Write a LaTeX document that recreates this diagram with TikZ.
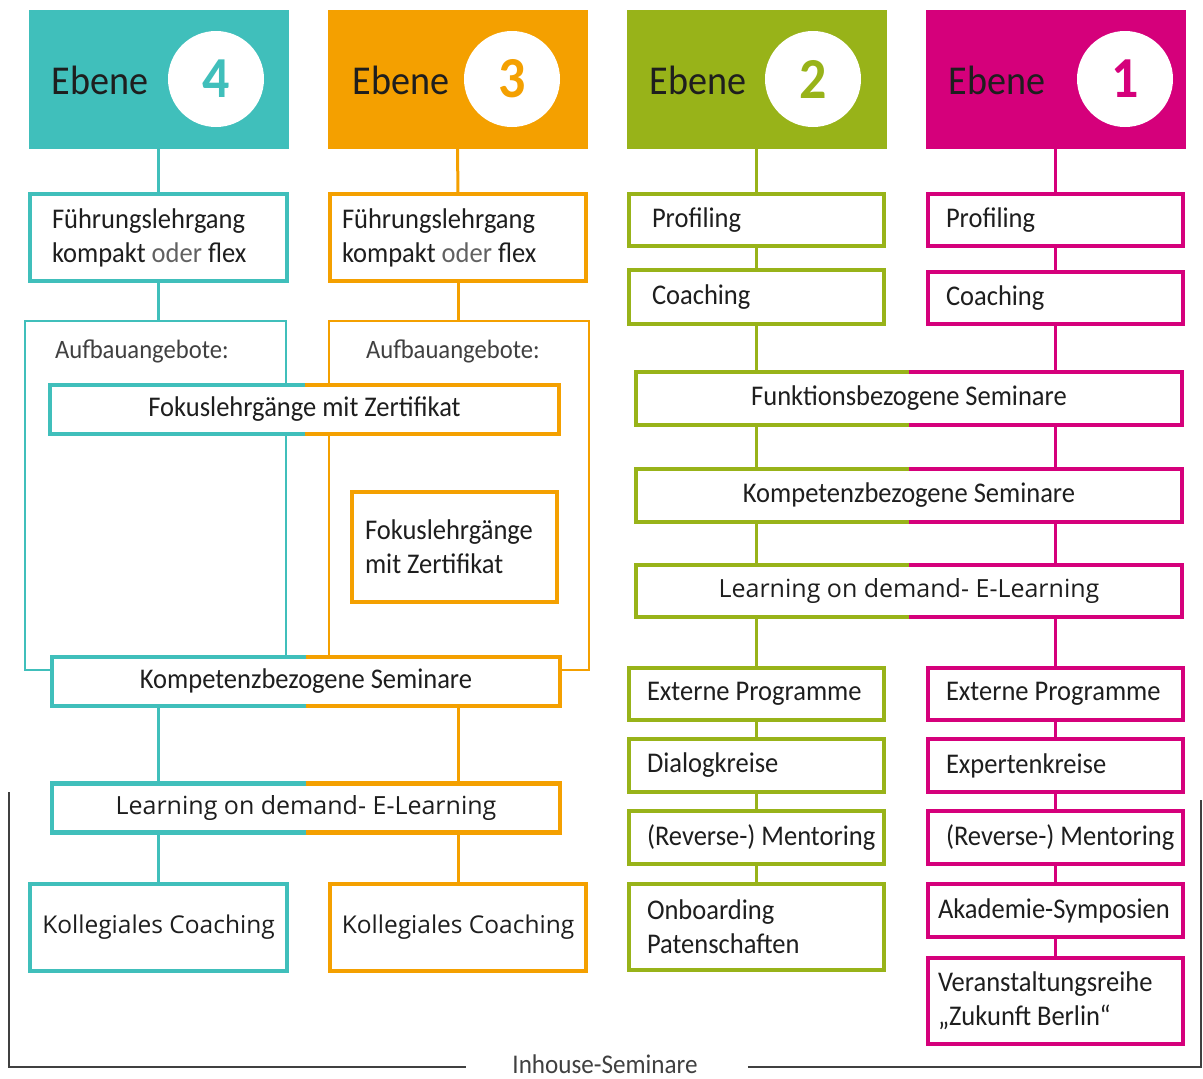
\documentclass[tikz,border=0pt]{standalone}
\usepackage{fontspec}
\setmainfont{Carlito}[FakeStretch=0.93]
\newfontfamily\opensans{Open Sans}

\definecolor{ebvier}{HTML}{40BFBB}
\definecolor{ebdrei}{HTML}{F4A000}
\definecolor{ebzwei}{HTML}{98B319}
\definecolor{ebeins}{HTML}{D5007B}
\definecolor{ink}{HTML}{1E1E1E}
\definecolor{rahmen}{HTML}{404040}

\begin{document}
\begin{tikzpicture}[x=1pt, y=-1pt, line join=miter,
    head/.style={minimum width=260pt, minimum height=139pt, inner sep=0pt, outer sep=0pt},
    ebene/.style={inner sep=0pt, text=ink, font=\fontsize{41}{41}\selectfont},
    num/.style={circle, fill=white, minimum size=96pt, inner sep=0pt, font=\fontsize{58}{58}\selectfont\bfseries},
    box/.style={draw, fill=white, line width=4.5pt, minimum width=255pt, minimum height=52pt, inner sep=0pt, outer sep=0pt, text=ink, font=\fontsize{28.5}{34}\selectfont},
    lbox/.style={box, align=left, text width=#1, execute at begin node={\spaceskip=0pt\xspaceskip=0pt\relax}},
    wide/.style={fill=white, minimum height=49pt, inner sep=0pt, outer sep=0pt, text=ink, font=\fontsize{28.5}{34}\selectfont},
    frame/.style={draw, line width=2pt, outer sep=0pt},
    rim/.style={line width=4.5pt},
    link/.style={line width=3pt}]

    \useasboundingbox (0,0) rectangle (1203,1079);

    % Kopfzeile
    \node[head, fill=ebvier] (h4) at (158.5,79.5) {};
    \node[head, fill=ebdrei] (h3) at (457.5,79.5) {};
    \node[head, fill=ebzwei] (h2) at (756.5,79.5) {};
    \node[head, fill=ebeins] (h1) at (1055.5,79.5) {};
    \node[ebene] (e4) at (100,80) {Ebene};
    \node[ebene] (e3) at (401,80) {Ebene};
    \node[ebene] (e2) at (698,80) {Ebene};
    \node[ebene] (e1) at (997,80) {Ebene};
    \node[num, text=ebvier] (n4) at (216,79) {4};
    \node[num, text=ebdrei] (n3) at (512,79) {3};
    \node[num, text=ebzwei] (n2) at (813,79) {2};
    \node[num, text=ebeins] (n1) at (1125,79) {1};

    % Rahmen Aufbauangebote
    \node[frame, draw=ebvier, minimum width=261pt, minimum height=349pt] (auf4) at (155.5,495) {};
    \node[frame, draw=ebdrei, minimum width=260pt, minimum height=349pt] (auf3) at (459,495) {};
    \node[anchor=west, inner sep=0pt, text=ink!85, font=\fontsize{26.5}{26.5}\selectfont] (ab4) at (55,351) {Aufbauangebote:};
    \node[anchor=west, inner sep=0pt, text=ink!85, font=\fontsize{26.5}{26.5}\selectfont] (ab3) at (366,351) {Aufbauangebote:};

    % Ebene 4 und 3
    \node[lbox=213pt, draw=ebvier, minimum width=257pt, minimum height=87pt] (fl4) at (158.5,237.5) {Führungslehrgang\\kompakt \textcolor{ink!70}{oder} flex};
    \node[lbox=232pt, draw=ebdrei, minimum width=256pt, minimum height=87pt] (fl3) at (458,237.5) {Führungslehrgang\\kompakt \textcolor{ink!70}{oder} flex};
    \node[wide, minimum width=509pt] (fok) at (304.5,409.5) {Fokuslehrgänge mit Zertifikat};
    \node[lbox=179pt, draw=ebdrei, minimum width=205pt, minimum height=110pt] (fok3) at (454.5,547) {Fokuslehrgänge\\mit Zertifikat};
    \node[wide, minimum width=508pt] (ks) at (306,681.5) {Kompetenzbezogene Seminare};
    \node[wide, minimum width=508pt, font=\opensans\fontsize{25}{25}\selectfont] (lod) at (306,808) {Learning on demand- E-Learning};
    \node[box, draw=ebvier, minimum width=257pt, minimum height=87pt, font=\opensans\fontsize{24.5}{25}\selectfont] (kc4) at (158.5,927.5) {Kollegiales Coaching};
    \node[box, draw=ebdrei, minimum width=256pt, minimum height=87pt, font=\opensans\fontsize{24.5}{25}\selectfont] (kc3) at (458,927.5) {Kollegiales Coaching};

    % Ebene 2 und 1
    \node[lbox=209pt, draw=ebzwei] (pr2) at (756.5,220) {Profiling};
    \node[lbox=209pt, draw=ebzwei, minimum height=54pt] (co2) at (756.5,297) {Coaching};
    \node[lbox=219pt, draw=ebeins] (pr1) at (1055.5,220) {Profiling};
    \node[lbox=219pt, draw=ebeins] (co1) at (1055.5,298) {Coaching};
    \node[wide, minimum width=546pt, minimum height=53pt] (fs) at (909,398.5) {Funktionsbezogene Seminare};
    \node[wide, minimum width=546pt, minimum height=53pt] (kb) at (909,495.5) {Kompetenzbezogene Seminare};
    \node[wide, minimum width=546pt, minimum height=52pt, font=\opensans\fontsize{25}{25}\selectfont] (lod2) at (909,591) {Learning on demand- E-Learning};
    \node[lbox=219pt, draw=ebzwei] (ex2) at (756.5,694) {Externe Programme};
    \node[lbox=219pt, draw=ebzwei, minimum height=53pt] (di2) at (756.5,765.5) {Dialogkreise};
    \node[lbox=219pt, draw=ebzwei, minimum height=53pt] (me2) at (756.5,837.5) {\mbox{(Reverse-) Mentoring}};
    \node[lbox=219pt, draw=ebzwei, minimum height=86pt] (on2) at (756.5,927) {Onboarding\\Patenschaften};
    \node[lbox=219pt, draw=ebeins] (ex1) at (1055.5,694) {Externe Programme};
    \node[lbox=219pt, draw=ebeins, minimum height=53pt] (ek1) at (1055.5,765.5) {Expertenkreise};
    \node[lbox=219pt, draw=ebeins, minimum height=53pt] (me1) at (1055.5,837.5) {\mbox{(Reverse-) Mentoring}};
    \node[lbox=235pt, draw=ebeins, minimum height=53pt] (ak1) at (1055.5,910.5) {\mbox{Akademie-Symposien}};
    \node[lbox=235pt, draw=ebeins, minimum height=86pt] (va1) at (1055.5,1001) {Veranstaltungsreihe\\„Zukunft Berlin“};

    % zweifarbige Kanten
    \draw[rim, ebvier] (fok.north) -- (fok.north west) -- (fok.south west) -- (fok.south);
    \draw[rim, ebdrei] (fok.north) -- (fok.north east) -- (fok.south east) -- (fok.south);
    \draw[rim, ebvier] (ks.north) -- (ks.north west) -- (ks.south west) -- (ks.south);
    \draw[rim, ebdrei] (ks.north) -- (ks.north east) -- (ks.south east) -- (ks.south);
    \draw[rim, ebvier] (lod.north) -- (lod.north west) -- (lod.south west) -- (lod.south);
    \draw[rim, ebdrei] (lod.north) -- (lod.north east) -- (lod.south east) -- (lod.south);
    \draw[rim, ebzwei] (fs.north) -- (fs.north west) -- (fs.south west) -- (fs.south);
    \draw[rim, ebeins] (fs.north) -- (fs.north east) -- (fs.south east) -- (fs.south);
    \draw[rim, ebzwei] (kb.north) -- (kb.north west) -- (kb.south west) -- (kb.south);
    \draw[rim, ebeins] (kb.north) -- (kb.north east) -- (kb.south east) -- (kb.south);
    \draw[rim, ebzwei] (lod2.north) -- (lod2.north west) -- (lod2.south west) -- (lod2.south);
    \draw[rim, ebeins] (lod2.north) -- (lod2.north east) -- (lod2.south east) -- (lod2.south);

    % Verbindungen
    \draw[link, ebvier] (h4.south) -- (fl4.north);
    \draw[link, ebvier] (fl4.south) -- (fl4.south |- auf4.north);
    \draw[link, ebvier] (ks.south -| fl4) -- (lod.north -| fl4);
    \draw[link, ebvier] (lod.south -| kc4) -- (kc4.north);
    \draw[link, ebdrei] (h3.south) -- (fl3.north);
    \draw[link, ebdrei] (fl3.south) -- (fl3.south |- auf3.north);
    \draw[link, ebdrei] (ks.south -| fl3) -- (lod.north -| fl3);
    \draw[link, ebdrei] (lod.south -| kc3) -- (kc3.north);

    \draw[link, ebzwei] (h2.south) -- (pr2.north);
    \draw[link, ebzwei] (pr2.south) -- (co2.north);
    \draw[link, ebzwei] (co2.south) -- (co2.south |- fs.north);
    \draw[link, ebzwei] (fs.south -| pr2) -- (kb.north -| pr2);
    \draw[link, ebzwei] (kb.south -| pr2) -- (lod2.north -| pr2);
    \draw[link, ebzwei] (lod2.south -| ex2) -- (ex2.north);
    \draw[link, ebzwei] (ex2.south) -- (di2.north);
    \draw[link, ebzwei] (di2.south) -- (me2.north);
    \draw[link, ebzwei] (me2.south) -- (on2.north);

    \draw[link, ebeins] (h1.south) -- (pr1.north);
    \draw[link, ebeins] (pr1.south) -- (co1.north);
    \draw[link, ebeins] (co1.south) -- (co1.south |- fs.north);
    \draw[link, ebeins] (fs.south -| pr1) -- (kb.north -| pr1);
    \draw[link, ebeins] (kb.south -| pr1) -- (lod2.north -| pr1);
    \draw[link, ebeins] (lod2.south -| ex1) -- (ex1.north);
    \draw[link, ebeins] (ex1.south) -- (ek1.north);
    \draw[link, ebeins] (ek1.south) -- (me1.north);
    \draw[link, ebeins] (me1.south) -- (ak1.north);
    \draw[link, ebeins] (ak1.south) -- (va1.north);

    % Klammer Inhouse-Seminare
    \node[inner sep=0pt, text=ink!85, font=\fontsize{27}{27}\selectfont] (ih) at (605,1064) {Inhouse-Seminare};
    \coordinate (bl) at (9,792);
    \coordinate (br) at (1201,800);
    \draw[line width=2.5pt, rahmen] (bl) |- ([xshift=-46pt, yshift=-3pt]ih.west);
    \draw[line width=2.5pt, rahmen] ([xshift=50pt, yshift=-3pt]ih.east) -| (br);
\end{tikzpicture}
\end{document}
